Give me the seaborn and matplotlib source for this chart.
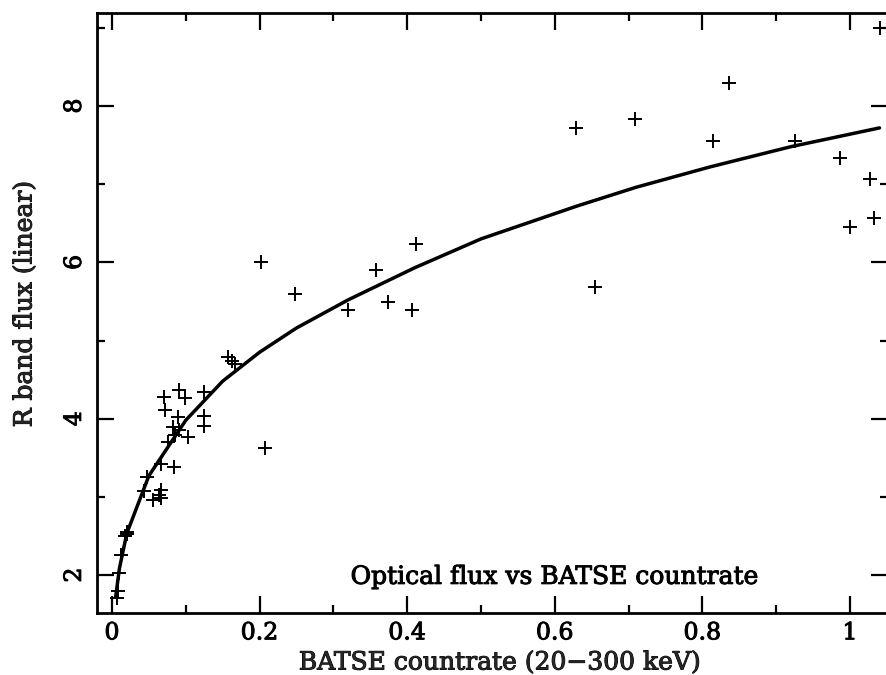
import matplotlib
matplotlib.use("Agg")
import matplotlib.pyplot as plt
import matplotlib.patheffects as pe
import seaborn as sns
import pandas as pd
from matplotlib.ticker import MultipleLocator

# Observed points (BATSE countrate, R band flux)
batse_rate = [0.0064, 0.0077, 0.0095, 0.012, 0.018, 0.020, 0.021, 0.044, 0.047, 0.056,
              0.064, 0.067, 0.067, 0.067, 0.0705, 0.072, 0.076, 0.083, 0.084, 0.085,
              0.090, 0.091, 0.091, 0.099, 0.103, 0.125, 0.125, 0.125, 0.157, 0.163,
              0.167, 0.2015, 0.207, 0.248, 0.320, 0.358, 0.374, 0.406, 0.412, 0.629,
              0.654, 0.709, 0.814, 0.836, 0.925, 0.986, 1.000, 1.027, 1.033, 1.041]
r_flux = [1.70, 1.79, 2.03, 2.26, 2.50, 2.53, 2.55, 3.08, 3.25, 2.96,
          3.02, 2.99, 3.09, 3.42, 4.28, 4.11, 3.70, 3.89, 3.38, 3.79,
          4.02, 3.86, 4.37, 4.27, 3.77, 4.34, 4.03, 3.90, 4.79, 4.74,
          4.70, 6.01, 3.62, 5.59, 5.39, 5.90, 5.49, 5.39, 6.23, 7.72,
          5.69, 7.84, 7.55, 8.29, 7.55, 7.34, 6.45, 7.07, 6.57, 9.00]

# Fitted curve
curve_x = [0.005, 0.01, 0.02, 0.05, 0.10, 0.15, 0.20, 0.25, 0.32, 0.41,
           0.50, 0.63, 0.71, 0.81, 0.92, 1.04]
curve_y = [1.72, 2.08, 2.53, 3.27, 3.98, 4.48, 4.85, 5.16, 5.52, 5.93,
           6.30, 6.72, 6.96, 7.22, 7.48, 7.72]

x_ticks = [0, 0.2, 0.4, 0.6, 0.8, 1]
x_ticklabels = ["0", "0.2", "0.4", "0.6", "0.8", "1"]
y_ticks = [2, 4, 6, 8]
y_ticklabels = ["2", "4", "6", "8"]

sns.set_theme(style="ticks")
plt.rcParams["font.family"] = ["DejaVu Serif", "DejaVu Sans"]

pts = pd.DataFrame({"x": batse_rate, "y": r_flux})
crv = pd.DataFrame({"x": curve_x, "y": curve_y})

fig = plt.figure(figsize=(8.86, 6.75), dpi=100)
ax = fig.add_axes([97 / 886, 1 - 613 / 675, (888 - 97) / 886, (613 - 13) / 675])

sns.lineplot(data=crv, x="x", y="y", ax=ax, color="black", linewidth=2.5, sort=False,
             estimator=None)
sns.scatterplot(data=pts, x="x", y="y", ax=ax, marker="+", color="black", s=90,
                linewidth=1.4)

ax.set_xlim(-0.0203, 1.0515)
ax.set_ylim(1.514, 9.19)
ax.set_xticks(x_ticks)
ax.set_xticklabels(x_ticklabels)
ax.set_yticks(y_ticks)
ax.set_yticklabels(y_ticklabels, rotation=90, va="center")
ax.xaxis.set_minor_locator(MultipleLocator(0.1))
ax.yaxis.set_minor_locator(MultipleLocator(1))
ax.tick_params(which="both", direction="in", top=True, right=True, width=1.6,
               colors="black", labelsize=17)
ax.tick_params(which="major", length=12)
ax.tick_params(axis="x", which="major", pad=6)
ax.tick_params(axis="y", which="major", pad=8)
ax.tick_params(which="minor", length=6)
for s in ax.spines.values():
    s.set_linewidth(2)
    s.set_color("black")

ax.set_xlabel("BATSE countrate (20\u2212300 keV)", fontsize=18)
ax.set_ylabel("R band flux (linear)", fontsize=18)
ax.xaxis.set_label_coords((500 - 97) / 791, (613 - 663) / 600)
ax.xaxis.label.set_va("center")
ax.yaxis.set_label_coords((25 - 97) / 791, (613 - 304) / 600)
ax.yaxis.label.set_va("center")
ax.text(0.60, 1.97, "Optical flux vs BATSE countrate", fontsize=18, ha="center",
        va="center", color="black")

thick = [pe.withStroke(linewidth=0.7, foreground="black")]
for t in ([ax.xaxis.label, ax.yaxis.label] + ax.texts
          + ax.get_xticklabels() + ax.get_yticklabels()):
    t.set_path_effects(thick)

fig.savefig("out.png", dpi=100)
